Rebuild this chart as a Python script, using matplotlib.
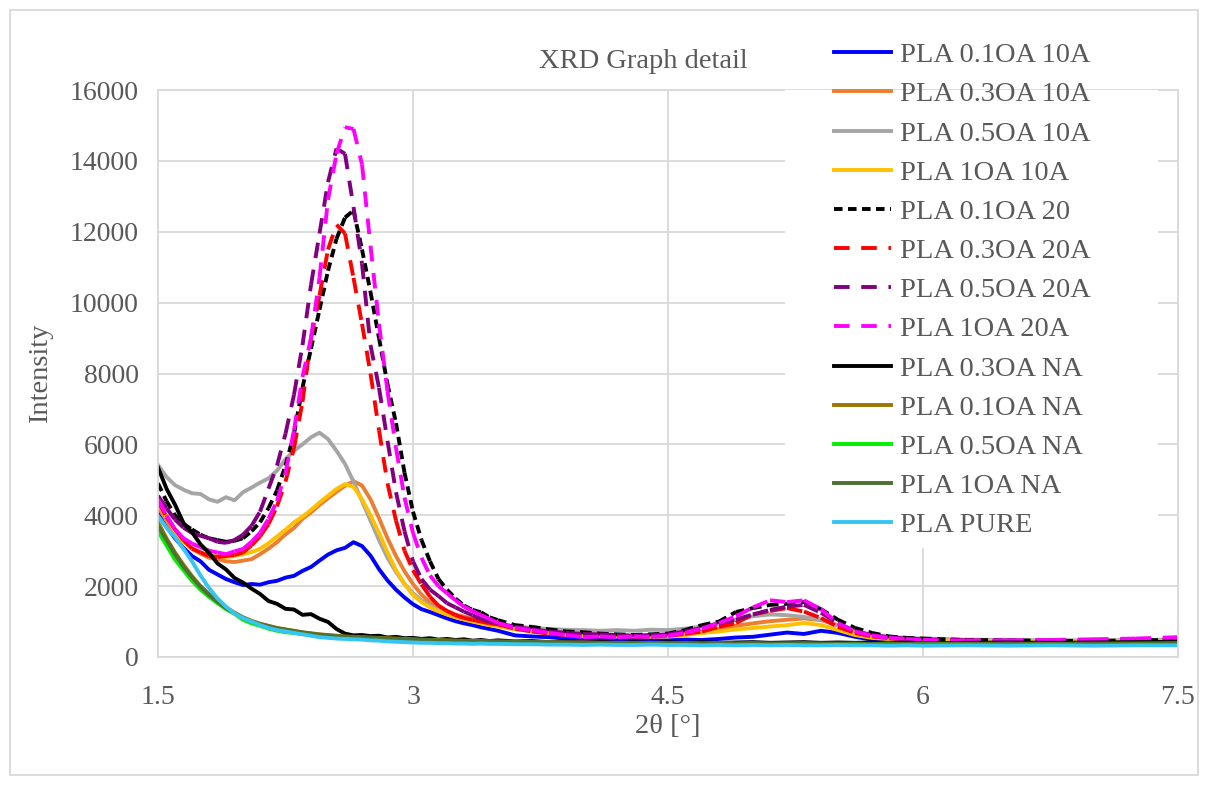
import matplotlib
matplotlib.use('Agg')
import matplotlib.pyplot as plt
from matplotlib.patches import Rectangle
from matplotlib.collections import LineCollection

plt.rcParams['font.family'] = ['Liberation Serif', 'DejaVu Serif']

# 2theta grid (deg)
two_theta = [1.50, 1.55, 1.60, 1.65, 1.70, 1.75, 1.80, 1.85, 1.90, 1.95,
             2.00, 2.05, 2.10, 2.15, 2.20, 2.25, 2.30, 2.35, 2.40, 2.45,
             2.50, 2.55, 2.60, 2.65, 2.70, 2.75, 2.80, 2.85, 2.90, 2.95,
             3.00, 3.05, 3.10, 3.15, 3.20, 3.25, 3.30, 3.35, 3.40, 3.45,
             3.50, 3.60, 3.70, 3.80, 3.90, 4.00, 4.10, 4.20, 4.30, 4.40,
             4.50, 4.60, 4.70, 4.80, 4.90, 5.00, 5.10, 5.20, 5.30, 5.40,
             5.50, 5.60, 5.70, 5.80, 5.90, 6.00, 6.25, 6.50, 6.75, 7.00,
             7.25, 7.50]

pla_01oa_10a = [4050, 3680, 3350, 3080, 2850, 2700, 2460, 2330, 2200, 2110,
                2030, 2060, 2040, 2110, 2150, 2240, 2290, 2430, 2540, 2720,
                2890, 3010, 3080, 3240, 3130, 2860, 2480, 2160, 1900, 1680,
                1490, 1350, 1270, 1180, 1090, 1010, 950, 900, 840, 790,
                740, 610, 580, 560, 520, 490, 510, 470, 490, 480,
                470, 490, 480, 510, 550, 570, 630, 690, 650, 740,
                680, 570, 490, 470, 450, 440, 420, 430, 410, 420,
                430, 440]

pla_03oa_10a = [4250, 3850, 3480, 3260, 3050, 2920, 2800, 2760, 2700, 2680,
                2720, 2760, 2900, 3060, 3240, 3460, 3640, 3900, 4080, 4290,
                4480, 4660, 4830, 4960, 4840, 4450, 3920, 3350, 2850, 2420,
                2060, 1760, 1540, 1400, 1290, 1200, 1140, 1080, 1030, 980,
                940, 830, 760, 710, 660, 640, 620, 610, 600, 610,
                620, 660, 720, 800, 880, 950, 1010, 1050, 1090, 1040,
                900, 720, 600, 540, 500, 480, 460, 450, 450, 440,
                460, 470]

pla_05oa_10a = [5420, 5080, 4850, 4720, 4620, 4600, 4450, 4380, 4510, 4420,
                4650, 4780, 4920, 5040, 5260, 5580, 5820, 6000, 6200, 6330,
                6150, 5820, 5450, 4950, 4400, 3850, 3300, 2800, 2400, 2060,
                1800, 1600, 1450, 1320, 1220, 1150, 1080, 1030, 980, 950,
                920, 860, 820, 790, 770, 760, 740, 760, 740, 770,
                760, 800, 860, 950, 1050, 1150, 1200, 1180, 1130, 1060,
                880, 720, 620, 570, 540, 520, 490, 480, 470, 470,
                480, 490]

pla_1oa_10a = [4350, 3950, 3550, 3260, 3050, 2950, 2880, 2850, 2820, 2850,
               2900, 2960, 3050, 3210, 3400, 3590, 3800, 3960, 4150, 4360,
               4550, 4740, 4880, 4800, 4450, 4000, 3500, 2950, 2450, 2060,
               1750, 1550, 1400, 1290, 1200, 1120, 1060, 1000, 950, 900,
               860, 780, 720, 680, 640, 620, 600, 590, 590, 570,
               580, 620, 680, 720, 780, 820, 860, 900, 960, 900,
               760, 620, 540, 500, 480, 470, 460, 450, 440, 460,
               450, 460]

pla_01oa_20 = [4900, 4400, 4000, 3750, 3600, 3450, 3350, 3300, 3250, 3280,
               3350, 3550, 3800, 4200, 4700, 5400, 6300, 7600, 8700, 9800,
               10900, 11800, 12400, 12600, 11500, 10300, 9000, 7700, 6600, 5200,
               4100, 3300, 2700, 2200, 1900, 1650, 1450, 1330, 1260, 1120,
               1040, 900, 850, 780, 720, 700, 660, 640, 620, 640,
               660, 760, 900, 1000, 1270, 1380, 1470, 1500, 1550, 1350,
               1050, 820, 680, 580, 540, 520, 480, 470, 460, 450,
               470, 480]

pla_03oa_20a = [4400, 3950, 3600, 3300, 3060, 2950, 2850, 2820, 2850, 2880,
                2950, 3150, 3400, 3750, 4250, 4950, 5900, 7200, 9000, 10200,
                11500, 12200, 11950, 10700, 9400, 8000, 6400, 4900, 3850, 3000,
                2450, 2050, 1700, 1450, 1300, 1180, 1100, 1050, 1000, 950,
                920, 800, 720, 660, 620, 600, 580, 600, 570, 590,
                600, 650, 720, 850, 960, 1200, 1300, 1380, 1280, 1100,
                850, 680, 580, 530, 500, 480, 460, 450, 450, 460,
                470, 500]

pla_05oa_20a = [4550, 4200, 3880, 3650, 3500, 3420, 3350, 3250, 3220, 3300,
                3450, 3700, 4100, 4750, 5400, 6300, 7400, 8800, 10500, 11950,
                13400, 14350, 14200, 12700, 11100, 8800, 7600, 6100, 4650, 3550,
                2700, 2200, 1900, 1720, 1520, 1400, 1280, 1180, 1080, 1000,
                950, 850, 780, 720, 680, 650, 640, 620, 600, 620,
                640, 720, 820, 950, 1060, 1200, 1330, 1420, 1470, 1250,
                950, 730, 620, 560, 520, 500, 470, 460, 450, 460,
                480, 500]

pla_1oa_20a = [4450, 4000, 3600, 3350, 3200, 3100, 3000, 2950, 2900, 2980,
               3050, 3250, 3500, 3900, 4400, 5200, 6400, 7900, 9000, 10700,
               12900, 14200, 14950, 14900, 13900, 11600, 9400, 7500, 5900, 4500,
               3500, 2800, 2300, 2000, 1800, 1600, 1420, 1300, 1180, 1080,
               960, 820, 760, 680, 620, 560, 580, 560, 580, 570,
               600, 680, 800, 960, 1150, 1400, 1600, 1550, 1600, 1350,
               950, 720, 600, 540, 500, 480, 460, 470, 480, 500,
               520, 560]

pla_03oa_na = [5350, 4750, 4300, 3780, 3520, 3180, 2940, 2640, 2470, 2230,
               2100, 1930, 1780, 1580, 1500, 1360, 1340, 1190, 1210, 1080,
               990, 790, 660, 610, 620, 590, 600, 550, 570, 530,
               540, 510, 530, 490, 510, 480, 500, 460, 480, 450,
               470, 440, 450, 420, 440, 410, 430, 400, 420, 400,
               420, 400, 420, 400, 410, 420, 400, 410, 420, 400,
               410, 400, 410, 400, 410, 390, 400, 410, 400, 410,
               420, 430]

pla_01oa_na = [3800, 3350, 2950, 2600, 2280, 2000, 1780, 1580, 1400, 1250,
               1120, 1020, 940, 880, 820, 780, 740, 700, 670, 640,
               620, 600, 580, 570, 560, 550, 540, 530, 520, 510,
               500, 490, 480, 480, 470, 460, 460, 450, 450, 440,
               440, 430, 420, 420, 410, 410, 400, 400, 390, 400,
               390, 390, 380, 390, 380, 390, 380, 380, 390, 380,
               380, 380, 370, 380, 370, 380, 370, 380, 370, 380,
               380, 390]

pla_05oa_na = [3550, 3150, 2750, 2450, 2150, 1900, 1700, 1520, 1350, 1220,
               1050, 950, 880, 800, 740, 700, 680, 650, 630, 610,
               580, 570, 550, 540, 530, 520, 510, 500, 490, 490,
               480, 470, 470, 460, 450, 450, 440, 440, 430, 420,
               420, 410, 400, 400, 390, 390, 380, 390, 380, 380,
               370, 380, 370, 380, 370, 370, 360, 370, 360, 370,
               360, 370, 360, 360, 350, 360, 350, 360, 350, 360,
               350, 360]

pla_1oa_na = [3700, 3300, 2900, 2550, 2250, 1980, 1750, 1560, 1380, 1240,
              1110, 1010, 930, 870, 810, 770, 730, 690, 660, 630,
              610, 590, 570, 560, 550, 540, 530, 520, 510, 500,
              490, 480, 480, 470, 460, 460, 450, 450, 440, 440,
              430, 420, 420, 410, 410, 400, 400, 390, 390, 390,
              380, 390, 380, 380, 370, 380, 370, 380, 370, 370,
              370, 360, 370, 360, 370, 360, 360, 370, 360, 370,
              360, 370]

pla_pure = [3980, 3650, 3380, 3050, 2700, 2300, 1950, 1650, 1420, 1230,
            1100, 1000, 900, 820, 760, 720, 680, 640, 600, 560,
            540, 520, 510, 500, 490, 470, 460, 440, 430, 420,
            410, 400, 400, 390, 390, 380, 380, 370, 380, 370,
            370, 360, 360, 350, 350, 340, 350, 340, 340, 350,
            340, 340, 330, 340, 330, 340, 330, 340, 330, 330,
            340, 330, 330, 320, 330, 320, 330, 320, 330, 320,
            330, 330]

long_dash = (0, (4, 3))
short_dash = (0, (2.2, 1.4))

series = [
    ('PLA 0.1OA 10A', pla_01oa_10a, '#0000FF', '-'),
    ('PLA 0.3OA 10A', pla_03oa_10a, '#ED7D31', '-'),
    ('PLA 0.5OA 10A', pla_05oa_10a, '#A5A5A5', '-'),
    ('PLA 1OA 10A', pla_1oa_10a, '#FFC000', '-'),
    ('PLA 0.1OA 20', pla_01oa_20, '#000000', short_dash),
    ('PLA 0.3OA 20A', pla_03oa_20a, '#FF0000', long_dash),
    ('PLA 0.5OA 20A', pla_05oa_20a, '#800080', long_dash),
    ('PLA 1OA 20A', pla_1oa_20a, '#FF00FF', long_dash),
    ('PLA 0.3OA NA', pla_03oa_na, '#000000', '-'),
    ('PLA 0.1OA NA', pla_01oa_na, '#9C7700', '-'),
    ('PLA 0.5OA NA', pla_05oa_na, '#00F000', '-'),
    ('PLA 1OA NA', pla_1oa_na, '#4E7030', '-'),
    ('PLA PURE', pla_pure, '#36C5F0', '-'),
]

txt = '#595959'
grid_col = '#D9D9D9'
lw = 2.8

fig = plt.figure(figsize=(12.08, 7.85), dpi=100)
ax = fig.add_axes([158/1208, 1 - 657/785, 1020/1208, 567/785])

for label, y, col, ls in series:
    if ls == '-':
        ax.plot(two_theta, y, color=col, lw=lw, label=label,
                solid_joinstyle='round')
    else:
        # dash pattern restarts on every segment (like the spreadsheet does)
        pts = list(zip(two_theta, y))
        segs = [[pts[i], pts[i + 1]] for i in range(len(pts) - 1)]
        ax.add_collection(LineCollection(segs, colors=col, linestyles=[ls],
                                         linewidths=lw, zorder=2))
        ax.plot([], [], color=col, lw=lw, linestyle=ls, label=label)

ax.set_xlim(1.5, 7.5)
ax.set_ylim(0, 16000)
ax.set_xticks([1.5, 3, 4.5, 6, 7.5])
ax.set_xticklabels(['1.5', '3', '4.5', '6', '7.5'])
ax.set_yticks(range(0, 16001, 2000))
ax.grid(True, color=grid_col, lw=1.3)
ax.set_axisbelow(True)
for s in ax.spines.values():
    s.set_color(grid_col)
    s.set_linewidth(1.3)
ax.tick_params(length=0, labelsize=20, colors=txt)
ax.tick_params(axis='x', pad=20)
ax.tick_params(axis='y', pad=14)

ax.set_xlabel('2θ [°]', fontsize=20.5, color=txt)
ax.xaxis.set_label_coords(0.5, -0.1)
ax.set_ylabel('Intensity', fontsize=20.5, color=txt)
ax.yaxis.set_label_coords(-0.103, 0.5)

fig.text(643/1208, 1 - 61/785, 'XRD Graph detail', fontsize=20.5, color=txt,
         ha='center', va='center')

# white area behind the legend
ax.add_patch(Rectangle((627/1020, 109/567), 373/1020, 458/567,
                       transform=ax.transAxes, facecolor='white',
                       edgecolor='none', zorder=4, clip_on=False))

leg = ax.legend(loc='upper left', bbox_to_anchor=(820/1208, 1 - 28/785),
                bbox_transform=fig.transFigure, frameon=False,
                fontsize=20.5, labelcolor=txt,
                handlelength=2.0, handletextpad=0.3, labelspacing=0.465,
                borderpad=0.5, borderaxespad=0)
leg.set_zorder(5)

# outer chart border
fig.patches.append(Rectangle((10/1208, 10/785), 1188/1208, 765/785,
                             transform=fig.transFigure, fill=False,
                             edgecolor=grid_col, lw=1.3))

fig.savefig('out.png', dpi=100, facecolor='white')
